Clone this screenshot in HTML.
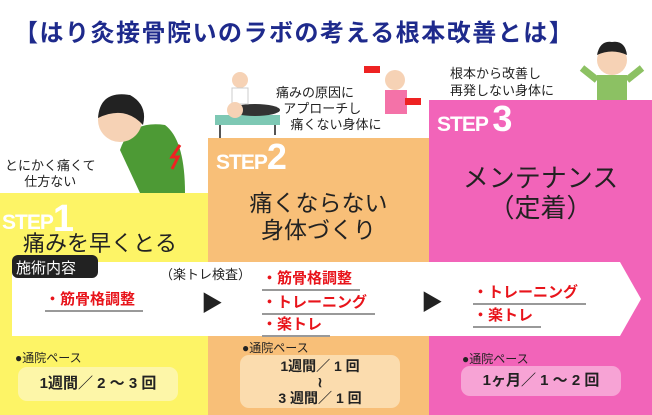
<!DOCTYPE html>
<html><head><meta charset="utf-8"><style>
*{margin:0;padding:0;box-sizing:border-box}
body{width:652px;height:415px;background:#fff;position:relative;overflow:hidden;font-family:"Liberation Sans","Noto Sans CJK JP",sans-serif}
.a{position:absolute;white-space:nowrap}
.step{color:#fff;font-weight:bold;font-family:"Liberation Sans",sans-serif;letter-spacing:-1px}
.red{color:#e8141b;font-weight:bold;font-size:15px;border-bottom:2px solid #999;padding:0 8px 1px 0}
.k{color:#222}
.box{position:absolute;border-radius:9px;font-size:15px;color:#222;text-align:center;font-weight:bold}
</style></head><body>
<div class="a" style="left:14px;top:13px;font-size:24px;color:#1e2a8c;font-weight:bold;letter-spacing:1.5px">【はり灸接骨院いのラボの考える根本改善とは】</div>

<div class="a" style="left:0;top:193px;width:208px;height:222px;background:#fdf466"></div>
<div class="a" style="left:208px;top:138px;width:221px;height:277px;background:#f8bf78"></div>
<div class="a" style="left:429px;top:100px;width:223px;height:315px;background:#f264b9"></div>

<svg class="a" style="left:0;top:0" width="652" height="193">
 <path d="M120 150 Q130 120 165 125 Q185 140 185 193 L140 193 Z" fill="#4d9a35"/>
 <circle cx="120" cy="120" r="22" fill="#f6d2b5"/>
 <path d="M98 118 Q100 90 130 95 Q148 105 143 125 Q125 105 98 118Z" fill="#222"/>
 <path d="M180 145 l-8 12 l6 0 l-6 12" stroke="#e22" stroke-width="3" fill="none"/>
 <rect x="215" y="115" width="65" height="10" fill="#7ec8b4"/>
 <line x1="220" y1="125" x2="220" y2="138" stroke="#555" stroke-width="2"/><line x1="275" y1="125" x2="275" y2="135" stroke="#555" stroke-width="2"/>
 <ellipse cx="255" cy="110" rx="25" ry="6" fill="#333"/>
 <circle cx="240" cy="80" r="8" fill="#f6d2b5"/><rect x="232" y="88" width="16" height="16" fill="#fff" stroke="#ccc"/>
 <circle cx="235" cy="110" r="8" fill="#f6d2b5"/>
 <circle cx="395" cy="80" r="10" fill="#f6d2b5"/><rect x="385" y="90" width="22" height="24" fill="#f472a8"/>
 <rect x="364" y="66" width="16" height="7" fill="#e22"/><rect x="405" y="98" width="16" height="7" fill="#e22"/>
 <circle cx="612" cy="60" r="15" fill="#f6d2b5"/>
 <path d="M597 55 Q600 40 612 42 Q625 40 627 55 Q612 48 597 55Z" fill="#222"/>
 <rect x="597" y="75" width="30" height="25" fill="#8cc163"/>
 <path d="M597 80 L582 68 M627 80 L642 68" stroke="#8cc163" stroke-width="7"/>
</svg>

<div class="a k" style="left:5px;top:158px;font-size:13px;line-height:16px;text-align:center">とにかく痛くて<br>仕方ない</div>
<div class="a k" style="left:276px;top:85px;font-size:13px;line-height:16px">痛みの原因に<br>&nbsp;&nbsp;アプローチし<br>&nbsp;&nbsp;&nbsp;&nbsp;痛くない身体に</div>
<div class="a k" style="left:450px;top:65px;font-size:13px;line-height:17px">根本から改善し<br>再発しない身体に</div>

<div class="a step" style="left:2px;top:196px;font-size:21px"><span>STEP</span><span style="font-size:38px;position:relative;top:2px">1</span></div>
<div class="a k" style="left:23px;top:226px;font-size:22px">痛みを早くとる</div>
<div class="a step" style="left:216px;top:136px;font-size:21px">STEP<span style="font-size:36px">2</span></div>
<div class="a k" style="left:208px;width:221px;top:190px;font-size:23px;line-height:27px;text-align:center">痛くならない<br>身体づくり</div>
<div class="a step" style="left:437px;top:98px;font-size:21px">STEP <span style="font-size:36px">3</span></div>
<div class="a k" style="left:429px;width:223px;top:163px;font-size:26px;line-height:30px;text-align:center">メンテナンス<br>（定着）</div>

<svg class="a" style="left:0;top:0" width="652" height="415"><polygon points="12,262 620,262 641,299 620,336 12,336" fill="#fff"/></svg>
<div class="a" style="left:12px;top:255px;width:86px;height:23px;background:#222;border-radius:6px;color:#fff;font-size:15px;padding:2px 4px">施術内容</div>
<div class="a k" style="left:160px;top:264px;font-size:13px">（楽トレ検査）</div>
<div class="a red" style="left:45px;top:288px">・筋骨格調整</div>
<div class="a k" style="left:201px;top:286px;font-size:22px">▶</div>
<div class="a red" style="left:262px;top:267px">・筋骨格調整</div>
<div class="a red" style="left:262px;top:291px">・トレーニング</div>
<div class="a red" style="left:262px;top:313px">・楽トレ</div>
<div class="a k" style="left:421px;top:285px;font-size:22px">▶</div>
<div class="a red" style="left:473px;top:281px">・トレーニング</div>
<div class="a red" style="left:473px;top:304px">・楽トレ</div>

<div class="a k" style="left:15px;top:349px;font-size:12px">●通院ペース</div>
<div class="box" style="left:18px;top:367px;width:160px;height:34px;background:#fdf6a8;line-height:34px">1週間／ 2 ～ 3 回</div>
<div class="a k" style="left:242px;top:339px;font-size:12px">●通院ペース</div>
<div class="box" style="left:240px;top:355px;width:160px;height:53px;background:#fbdcae;line-height:16px;padding-top:3px;font-size:14px">1週間／ 1 回<br>≀<br>3 週間／ 1 回</div>
<div class="a k" style="left:462px;top:350px;font-size:12px">●通院ペース</div>
<div class="box" style="left:461px;top:366px;width:160px;height:30px;background:#f7a3d5;line-height:30px">1ヶ月／ 1 ～ 2 回</div>
</body></html>
